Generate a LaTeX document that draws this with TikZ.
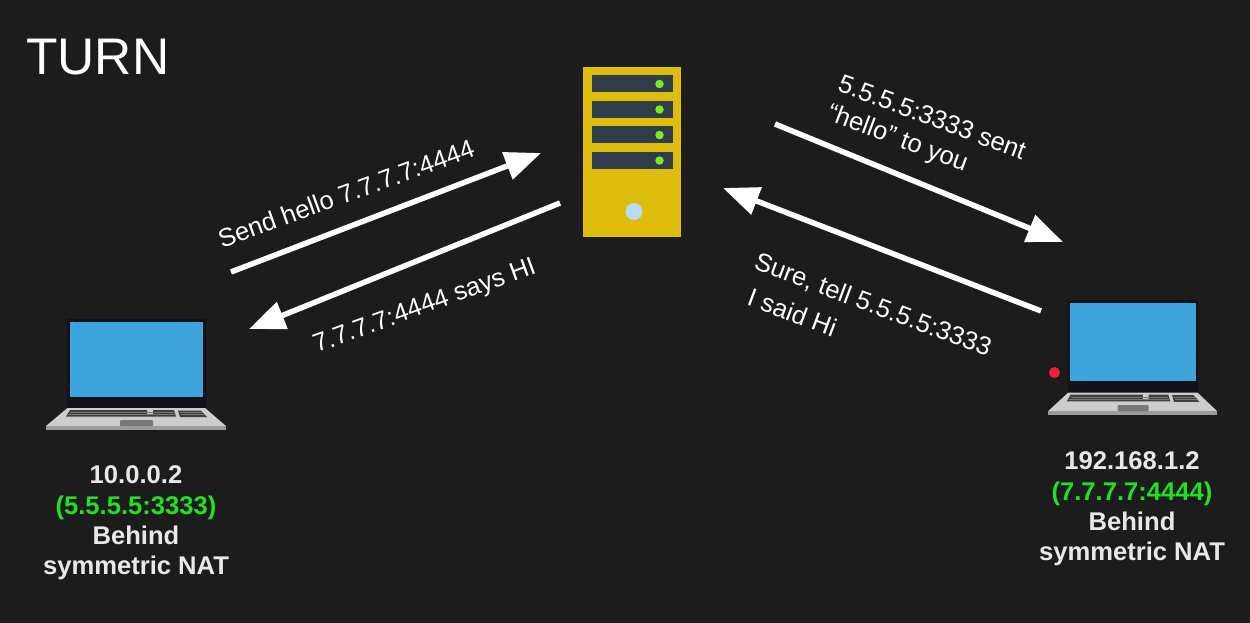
\documentclass[tikz,border=0pt]{standalone}
\usepackage{fontspec}
\setmainfont{Liberation Sans}
\usetikzlibrary{arrows.meta}
\definecolor{bgc}{HTML}{1C1C1C}
\definecolor{bez}{HTML}{11111A}
\definecolor{scr}{HTML}{3DA5DB}
\definecolor{deck}{HTML}{CFCDCC}
\definecolor{deckd}{HTML}{9C9B9A}
\definecolor{keyc}{HTML}{3F3F42}
\definecolor{padc}{HTML}{777777}
\definecolor{srv}{HTML}{DDBC0E}
\definecolor{slot}{HTML}{2F3D48}
\definecolor{led}{HTML}{77EE1E}
\definecolor{btn}{HTML}{B9DCF5}
\definecolor{natg}{HTML}{22E022}
\definecolor{capw}{HTML}{E8E8E8}
\definecolor{reddot}{HTML}{F0203A}
\tikzset{
  x=1pt,y=-1pt,
  flow/.style={draw=white,line width=5.5pt,-{Triangle[length=36pt,width=28pt]}},
  lbl/.style={text=white,font=\fontsize{25.6}{27}\selectfont,align=left,inner sep=0pt},
  captxt/.style={text=capw,font=\bfseries\fontsize{25.6}{30.4}\selectfont,align=center,inner sep=0pt},
  laptop/.pic={
    \fill[bez] (67,319) rectangle (205.5,408);
    \fill[scr] (69.5,322) rectangle (203,397);
    \fill[deck] (67.5,408) -- (205,408) -- (226,426) -- (46,426) -- cycle;
    \fill[deckd] (46,426) rectangle (226,430);
    \fill[keyc] (70,410) -- (147,410) -- (147,415) -- (153,415) -- (153,410) -- (174,410) -- (176,416.5) -- (66,416.5) -- cycle;
    \fill[keyc] (178,410.5) -- (201,410.5) -- (207,417) -- (180,417) -- cycle;
    \draw[padc,line width=.5pt] (70,412.5) -- (174,412.5) (68,414.5) -- (175,414.5)
      (180,412.5) -- (203,412.5) (181,414.5) -- (205,414.5);
    \fill[padc,rounded corners=1pt] (120,420) rectangle (153,426);
  }
}
\begin{document}
\begin{tikzpicture}
\useasboundingbox (0,0) rectangle (1250,623);
\fill[bgc] (0,0) rectangle (1250,623);
\node[text=white,font=\fontsize{51.5}{52}\selectfont,anchor=base west,inner sep=0pt] (title) at (26,75) {TURN};
% server
\node[fill=srv,minimum width=98pt,minimum height=170pt,inner sep=0pt] (server) at (632,152) {};
\foreach \i/\y in {1/84,2/109.5,3/135,4/160.5}{
  \node[fill=slot,minimum width=81pt,minimum height=17pt,inner sep=0pt] (slot\i) at (632,\y) {};
  \node[fill=led,circle,minimum size=8.5pt,inner sep=0pt] (led\i) at (659.5,\y) {};
}
\node[fill=btn,circle,minimum size=17pt,inner sep=0pt] (button) at (634,211.5) {};
% laptops
\pic (left) at (0,0) {laptop};
\begin{scope}[shift={(1004.76,-31.76)},xscale=.94,yscale=1.04]
\pic[transform shape] (right) at (0,0) {laptop};
\end{scope}
\node[fill=reddot,circle,minimum size=11pt,inner sep=0pt] (dot) at (1054.5,372.5) {};
% anchors
\coordinate (a1) at (231,272); \coordinate (a2) at (541,153);
\coordinate (b1) at (560,203); \coordinate (b2) at (249,329);
\coordinate (c1) at (775,124); \coordinate (c2) at (1063,242);
\coordinate (d1) at (1041,311); \coordinate (d2) at (723,188);
\draw[flow] (a1) -- (a2);
\draw[flow] (b1) -- (b2);
\draw[flow] (c1) -- (c2);
\draw[flow] (d1) -- (d2);
% labels
\node[lbl,rotate=20] (t1) at (346,193.5) {Send hello 7.7.7.7:4444};
\node[lbl,rotate=20] (t2) at (425,307) {7.7.7.7:4444 says HI};
\node[lbl,rotate=-20.5] (t3) at (926,134) {5.5.5.5:3333 sent\\[4pt]“hello” to you};
\node[lbl,rotate=-20.5] (t4) at (867,321) {Sure, tell 5.5.5.5:3333\\[9pt]\hspace*{6pt}I said Hi};
% captions
\node[captxt] (capl) at (136,523) {10.0.0.2\\\textcolor{natg}{(5.5.5.5:3333)}\\Behind\\symmetric NAT};
\node[captxt] (capr) at (1132,509) {192.168.1.2\\\textcolor{natg}{(7.7.7.7:4444)}\\Behind\\symmetric NAT};
\end{tikzpicture}
\end{document}
